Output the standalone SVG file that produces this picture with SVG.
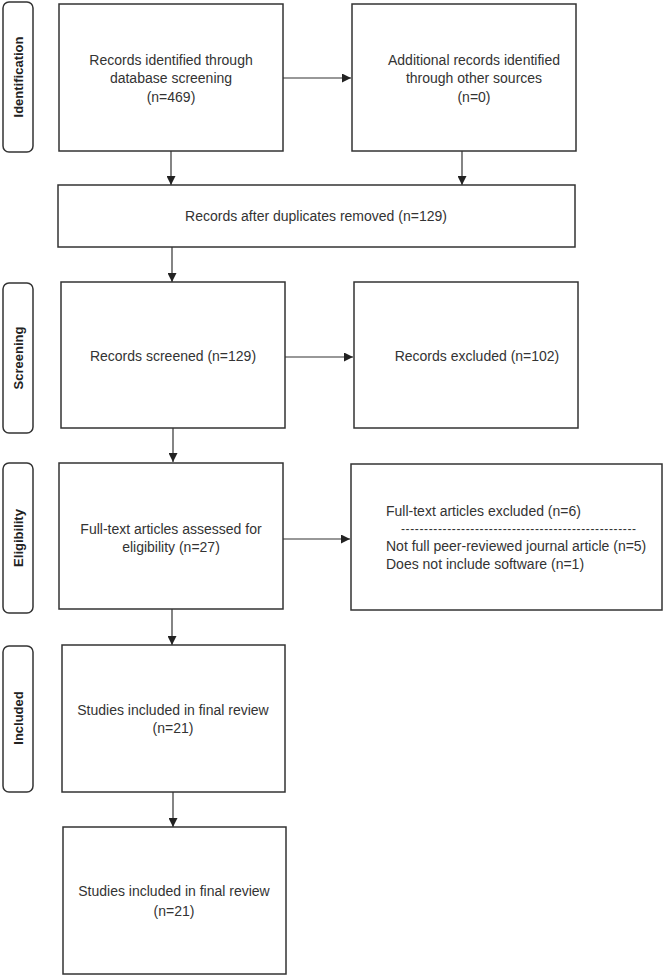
<svg xmlns="http://www.w3.org/2000/svg" width="664" height="975" viewBox="0 0 664 975">
<style>
.box{fill:#fff;stroke:#333;stroke-width:1.5}
.side{fill:#fff;stroke:#333;stroke-width:1.5}
.t{font-family:"Liberation Sans",Arial,sans-serif;font-size:14px;fill:#333}
.c{text-anchor:middle}
.s{font-family:"Liberation Sans",Arial,sans-serif;font-size:13px;font-weight:bold;fill:#222;text-anchor:middle}
.ln{stroke:#333;stroke-width:1.2;fill:none;marker-end:url(#ah)}
</style>
<defs>
<marker id="ah" viewBox="0 0 10 10" refX="10" refY="5" markerWidth="9" markerHeight="9" markerUnits="userSpaceOnUse" orient="auto">
<path d="M0,0 L10,5 L0,10 z" fill="#222"/>
</marker>
</defs>
<rect width="664" height="975" fill="#fff"/>
<g id="side-identification"><rect class="side" x="3" y="2" width="30" height="150" rx="6"/><text class="s" transform="translate(23,77) rotate(-90)">Identification</text></g>
<g id="side-screening"><rect class="side" x="3" y="283" width="30" height="150" rx="6"/><text class="s" transform="translate(23,358) rotate(-90)">Screening</text></g>
<g id="side-eligibility"><rect class="side" x="3" y="463" width="30" height="150" rx="6"/><text class="s" transform="translate(23,538) rotate(-90)">Eligibility</text></g>
<g id="side-included"><rect class="side" x="3" y="646" width="30" height="146" rx="6"/><text class="s" transform="translate(23,718) rotate(-90)">Included</text></g>

<g id="connectors">
<line class="ln" x1="283" y1="78" x2="351" y2="78"/>
<line class="ln" x1="171" y1="151" x2="171" y2="185"/>
<line class="ln" x1="462" y1="151" x2="462" y2="185"/>
<line class="ln" x1="172" y1="247" x2="172" y2="282"/>
<line class="ln" x1="285" y1="357" x2="353" y2="357"/>
<line class="ln" x1="173" y1="428" x2="173" y2="462"/>
<line class="ln" x1="283" y1="539" x2="350" y2="539"/>
<line class="ln" x1="172" y1="609" x2="172" y2="645"/>
<line class="ln" x1="173" y1="792" x2="173" y2="827"/>
</g>

<g id="records-identified"><rect class="box" x="59" y="4" width="224" height="147"/>
<text class="t c" x="171" y="65">Records identified through</text>
<text class="t c" x="171" y="83">database screening</text>
<text class="t c" x="171" y="102">(n=469)</text></g>

<g id="additional-records"><rect class="box" x="352" y="4" width="224" height="147"/>
<text class="t c" x="474" y="65">Additional records identified</text>
<text class="t c" x="474" y="83">through other sources</text>
<text class="t c" x="474" y="102">(n=0)</text></g>

<g id="after-duplicates"><rect class="box" x="58" y="185" width="517" height="62"/>
<text class="t c" x="316" y="221">Records after duplicates removed (n=129)</text></g>

<g id="records-screened"><rect class="box" x="61" y="282" width="224" height="146"/>
<text class="t c" x="173" y="361">Records screened (n=129)</text></g>

<g id="records-excluded"><rect class="box" x="354" y="282" width="224" height="146"/>
<text class="t c" x="477" y="361">Records excluded (n=102)</text></g>

<g id="fulltext-assessed"><rect class="box" x="59" y="463" width="224" height="146"/>
<text class="t c" x="171" y="534">Full-text articles assessed for</text>
<text class="t c" x="171" y="552">eligibility (n=27)</text></g>

<g id="fulltext-excluded"><rect class="box" x="351" y="464" width="311" height="146"/>
<text class="t" x="386" y="516">Full-text articles excluded (n=6)</text>
<text class="t" x="401" y="533" textLength="235" lengthAdjust="spacing" style="font-size:12px">---------------------------------------------------</text>
<text class="t" x="386" y="551">Not full peer-reviewed journal article (n=5)</text>
<text class="t" x="386" y="569">Does not include software (n=1)</text></g>

<g id="studies-included"><rect class="box" x="62" y="645" width="223" height="147"/>
<text class="t c" x="173" y="715">Studies included in final review</text>
<text class="t c" x="173" y="733">(n=21)</text></g>

<g id="studies-final"><rect class="box" x="63" y="827" width="223" height="147"/>
<text class="t c" x="174" y="896">Studies included in final review</text>
<text class="t c" x="174" y="916">(n=21)</text></g>
</svg>
